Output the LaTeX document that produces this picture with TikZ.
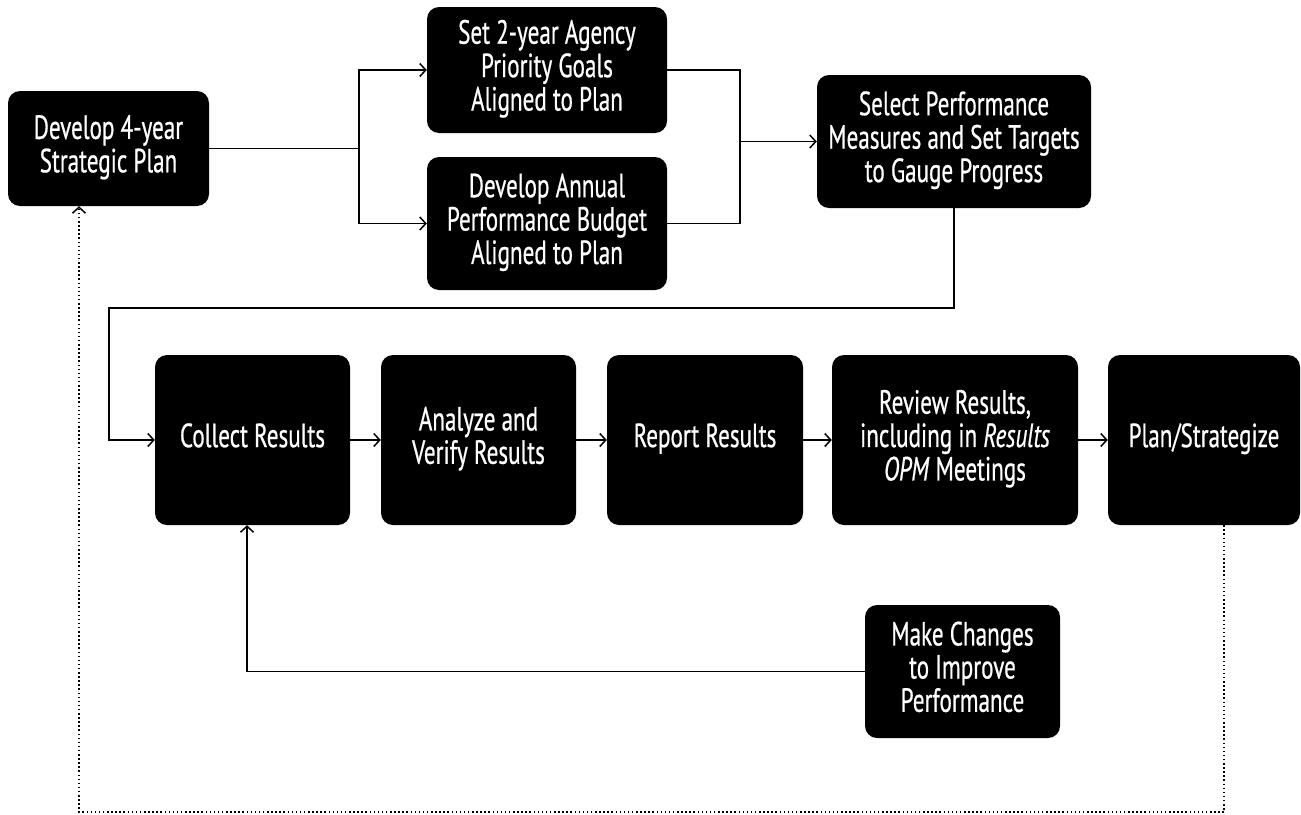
\documentclass[tikz,border=0pt]{standalone}
\usepackage{fontspec}
\setmainfont{PT Sans}[FakeStretch=0.69, FakeBold=0.6]
\usetikzlibrary{arrows.meta}
\newcommand{\ml}[2][0]{\raisebox{#1pt}{\begin{tabular}{@{}c@{}}#2\end{tabular}}}
\begin{document}
\begin{tikzpicture}[x=1pt,y=-1pt,
  box/.style={fill=black, rounded corners=12pt, text=white, inner sep=0pt,
    font=\fontsize{33.5}{32}\selectfont, minimum width=#1},
  box/.default=195pt,
  conn/.style={line width=1.5pt},
  arr/.style={conn, -{Straight Barb[length=6pt,width=13pt]}},
  dot/.style={line width=1.5pt, dash pattern=on 1.5pt off 2.6pt}]
\useasboundingbox (0,0) rectangle (1301,814);
% top part
\node[box=201pt, minimum height=115pt] (dev4) at (108.5,148.5) {\ml[3.5]{Develop 4-year\\Strategic Plan}};
\node[box=240pt, minimum height=126pt] (set2) at (547,70) {\ml[6]{Set 2-year Agency\\Priority Goals\\Aligned to Plan}};
\node[box=240pt, minimum height=133pt] (devann) at (547,223.5) {\ml[3]{Develop Annual\\Performance Budget\\Aligned to Plan}};
\node[box=274pt, minimum height=133pt] (sel) at (954,141.5) {\ml[1]{Select Performance\\Measures and Set Targets\\to Gauge Progress}};
% row
\node[box=195pt, minimum height=170pt] (collect) at (252.5,440) {\ml[1]{Collect Results}};
\node[box=195pt, minimum height=170pt] (analyze) at (478.5,440) {\ml[1]{Analyze and\\Verify Results}};
\node[box=196pt, minimum height=170pt] (report) at (705,440) {\ml[1]{Report Results}};
\node[box=246pt, minimum height=170pt] (review) at (955,440) {\ml[18]{Review Results,\\including in \textit{Results}\\\textit{OPM} Meetings}};
\node[box=192pt, minimum height=170pt] (plan) at (1204,440) {\ml[1]{Plan/Strategize}};
\node[box=195pt, minimum height=133pt] (make) at (962.5,671.5) {\ml[2]{Make Changes\\to Improve\\Performance}};
% connectors
\coordinate (j1) at (359,148.5);
\draw[conn] (dev4.east) -- (j1);
\draw[arr] (j1) |- (set2.west);
\draw[arr] (j1) |- (devann.west);
\coordinate (j2) at (740,141.5);
\draw[conn] (set2.east) -| (j2);
\draw[conn] (devann.east) -| (j2);
\draw[arr] (j2) -- (sel.west);
\coordinate (c1) at (109,308);
\draw[arr] (sel.south) |- (c1) |- (collect.west);
\draw[arr] (collect.east) -- (analyze.west);
\draw[arr] (analyze.east) -- (report.west);
\draw[arr] (report.east) -- (review.west);
\draw[arr] (review.east) -- (plan.west);
\draw[arr] (make.west) -| ([xshift=-5.5pt]collect.south);
\coordinate (d1) at (1224,812);
\draw[dot, -{Straight Barb[length=6pt,width=13pt,line width=1.5pt]}] ([xshift=20pt]plan.south) -- (d1) -| ([xshift=-29.5pt]dev4.south);
\end{tikzpicture}
\end{document}
